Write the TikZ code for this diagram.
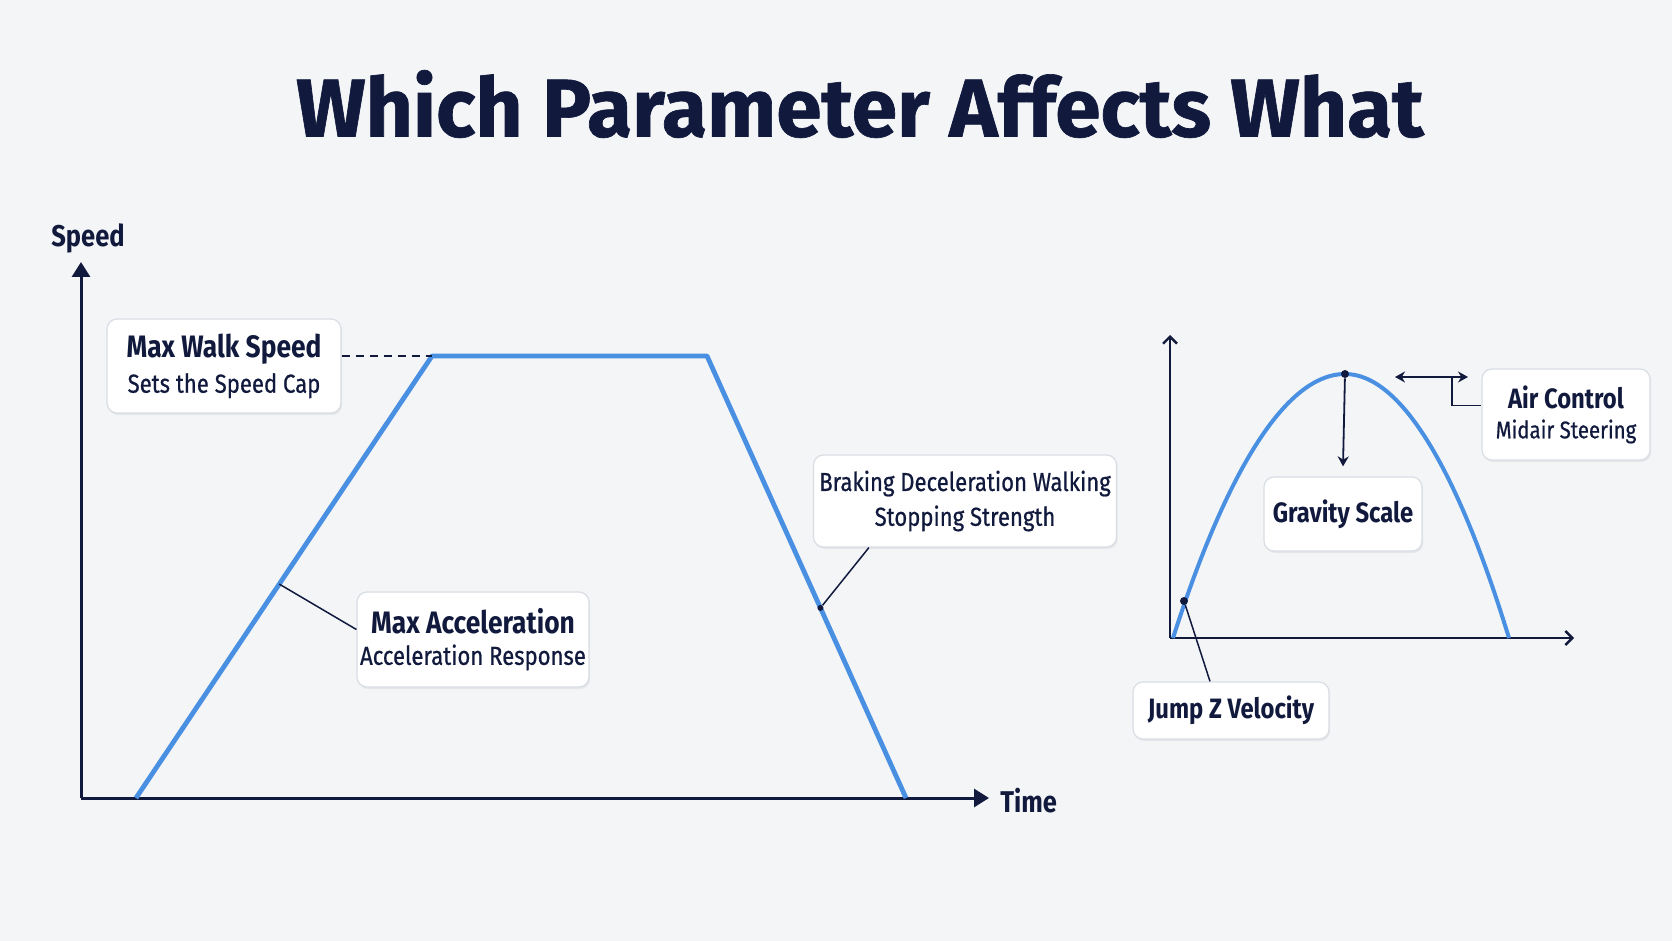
\documentclass[tikz,border=0pt]{standalone}
\usepackage{fontspec}
\setmainfont{Fira Sans}
\newfontfamily\condfont[FakeStretch=0.85]{Fira Sans}
\newfontfamily\condmed[FakeStretch=0.85,FakeBold=0.7]{Fira Sans}
\newfontfamily\titlefont[FakeBold=0.8]{Fira Sans}
\usepackage{xcolor}
\usepackage{tikz}
\usetikzlibrary{positioning,arrows.meta,shadows,calc}
\definecolor{bgcol}{HTML}{F4F5F7}
\definecolor{navy}{HTML}{111A3D}
\definecolor{curve}{HTML}{4A90E2}
\definecolor{boxline}{HTML}{D9DDE4}
\tikzset{
  % --- axes -----------------------------------------------------------------
  axis/.style={navy,line width=1.5pt,-{Triangle[length=7.5pt,width=9pt]}},
  axisb/.style={navy,line width=1.2pt,-{Straight Barb[length=3.5pt,width=7pt]}},
  axlab/.style={font=\condfont\fontsize{15}{17}\selectfont\bfseries,text=navy,inner sep=1pt},
  % --- curves ---------------------------------------------------------------
  speed/.style={curve,line width=2.4pt,line join=round},
  % --- callout boxes --------------------------------------------------------
  callout/.style={rectangle,rounded corners=5pt,draw=boxline,line width=0.6pt,
                  fill=white,text=navy,align=center,inner sep=0pt,
                  drop shadow={opacity=0.12,shadow xshift=0.6pt,shadow yshift=-1pt}},
  link/.style={navy,line width=0.75pt},
  tip/.style={navy,line width=0.9pt,{Stealth[length=5pt,width=5.5pt]}-{Stealth[length=5pt,width=5.5pt]}},
  dtip/.style={navy,line width=0.9pt,-{Stealth[length=5pt,width=5.5pt]}},
  dotmark/.style={circle,fill=navy,inner sep=0pt,minimum size=#1},
  dotmark/.default=4pt,
}
% big callouts (speed curve) and small callouts (jump arc)
\newcommand{\boxhead}[1]{{\condfont\fontsize{15.5}{18}\selectfont\bfseries #1}}
\newcommand{\boxsub}[1]{{\condmed\fontsize{13}{15}\selectfont #1}}
\newcommand{\smhead}[1]{{\condfont\fontsize{14}{16}\selectfont\bfseries #1}}
\newcommand{\smsub}[1]{{\condmed\fontsize{12}{14}\selectfont #1}}

\begin{document}
\begin{tikzpicture}[x=0.5pt, y=-0.5pt]
  \path[use as bounding box,fill=bgcol] (0,0) rectangle (1672,941);

  \node[text=navy,font=\titlefont\fontsize{41}{48}\selectfont\bfseries] (title) at (860,104)
    {Which Parameter Affects What};

  % speed over time
  \coordinate (O)  at (81,798);
  \coordinate (t0) at (136,798);
  \coordinate (t1) at (432,356);
  \coordinate (t2) at (707,356);
  \coordinate (t3) at (906,798);
  \draw[axis] (O) -- (81,262);
  \draw[axis] (O) -- (989,798);
  \node[axlab] (sp) at (88,238) {Speed};
  \node[axlab,anchor=west] (tm) at (998,801) {Time};
  \draw[speed] (t0) -- (t1) -- (t2) -- (t3);

  \node[callout,minimum width=117pt,minimum height=47pt] (walk) at (224,366)
    {\boxhead{Max Walk Speed}\\[3.5pt]\boxsub{Sets the Speed Cap}};
  \draw[link,dash pattern=on 4pt off 3pt] (t1 -| walk.east) -- (t1);

  \node[callout,minimum width=116pt,minimum height=47.5pt] (acc) at (473,639.5)
    {\boxhead{Max Acceleration}\\[3.5pt]\boxsub{Acceleration Response}};
  \coordinate (ap) at ($(t0)!0.484!(t1)$);
  \draw[link] (ap) -- ([yshift=5pt]acc.west);

  \node[callout,minimum width=151.5pt,minimum height=46pt] (brake) at (965,501)
    {{\condmed\fontsize{13}{16}\selectfont Braking Deceleration Walking}\\[3.5pt]\boxsub{Stopping Strength}};
  \coordinate (bp) at ($(t2)!0.57!(t3)$);
  \node[dotmark=3pt] (bdot) at (bp) {};
  \draw[link] (bdot) -- ([xshift=28pt]brake.south west);

  % jump arc
  \coordinate (O2)   at (1170,638);
  \coordinate (peak) at (1345,374);
  \draw[axisb] (O2) -- (1170,335);
  \draw[axisb] (O2) -- (1574,638);
  \draw[speed,line width=2pt] (1173,638) parabola bend (peak) (1509,638);
  \node[dotmark] (pdot) at (peak) {};

  \node[callout,minimum width=79pt,minimum height=37pt] (grav) at (1343,514)
    {\smhead{Gravity Scale}};
  \draw[dtip] (pdot) -- ([yshift=5pt]grav.north);

  \node[callout,minimum width=84pt,minimum height=45.5pt] (air) at (1566,414.5)
    {\smhead{Air Control}\\[3pt]\smsub{Midair Steering}};
  \coordinate (aL) at (1395,377);
  \coordinate (aR) at (1468,377);
  \coordinate (aC) at (1452,377);
  \draw[tip] (aL) -- (aR);
  \draw[link] (aC) |- ([yshift=4.5pt]air.west);

  \node[callout,minimum width=98pt,minimum height=28.5pt] (jump) at (1231,710.5)
    {\smhead{Jump Z Velocity}};
  \node[dotmark] (jdot) at (1184,601) {};
  \draw[link] (jdot) -- ([xshift=-10.5pt]jump.north);
\end{tikzpicture}
\end{document}
